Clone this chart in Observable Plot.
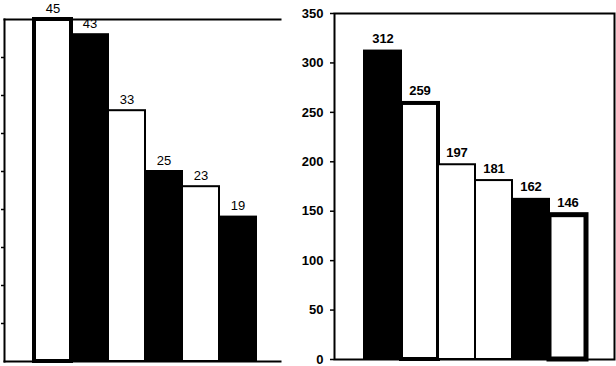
<!DOCTYPE html>
<html>
<head>
<meta charset="utf-8">
<script src="https://cdn.jsdelivr.net/npm/d3@7"></script>
<script src="https://cdn.jsdelivr.net/npm/@observablehq/plot@0.6"></script>
<style>
  html, body { margin: 0; padding: 0; background: #fff; }
  #wrap { display: flex; width: 616px; height: 366px; background: #fff; }
</style>
</head>
<body>
<div id="wrap"></div>
<script>
// ---- data ----
const leftCategories = ["L1", "L2", "L3", "L4", "L5", "L6"];
const leftValues = [45, 43, 33, 25, 23, 19];
const rightCategories = ["R1", "R2", "R3", "R4", "R5", "R6"];
const rightValues = [312, 259, 197, 181, 162, 146];
const rightTicks = [0, 50, 100, 150, 200, 250, 300, 350];

// ---- styles ----
const leftFills = ["white", "black", "white", "black", "white", "black"];
const leftStrokeW = [4, 2, 2, 2, 2, 2];
const rightFills = ["black", "white", "white", "white", "black", "white"];
const rightStrokeW = [2, 4, 2, 2, 2, 5];
const font = "'Liberation Sans', Arial, sans-serif";

const leftData = leftCategories.map((c, i) => ({c, v: leftValues[i], fill: leftFills[i], sw: leftStrokeW[i]}));
const rightData = rightCategories.map((c, i) => ({c, v: rightValues[i], fill: rightFills[i], sw: rightStrokeW[i]}));

const left = Plot.plot({
  width: 290, height: 366,
  marginLeft: 4, marginRight: 10, marginTop: 19, marginBottom: 5,
  style: {fontFamily: font, fontSize: "12px", overflow: "visible", background: "white"},
  x: {type: "band", domain: leftCategories, range: [31, 258], padding: 0, axis: null},
  y: {domain: [0, 45], axis: null},
  color: {type: "identity"},
  marks: [
    Plot.barY(leftData, {x: "c", y: "v", fill: "fill", stroke: "black", strokeWidth: "sw"}),
    Plot.axisY({ticks: d3.range(5, 45, 5), tickSize: 3, tickFormat: () => "", label: null, strokeWidth: 1.5}),
    Plot.frame({anchor: "left", stroke: "black", strokeWidth: 2}),
    Plot.frame({anchor: "top", stroke: "black", strokeWidth: 2}),
    Plot.frame({anchor: "bottom", stroke: "black", strokeWidth: 2}),
    Plot.text(leftData, {x: "c", y: "v", text: d => String(d.v), lineAnchor: "bottom", dy: -7, fontSize: 13, fill: "black"})
  ]
});

const right = Plot.plot({
  width: 326, height: 366,
  marginLeft: 44, marginRight: 2, marginTop: 13, marginBottom: 7,
  style: {fontFamily: font, fontSize: "13px", overflow: "visible", background: "white"},
  x: {type: "band", domain: rightCategories, range: [73, 296], padding: 0, axis: null},
  y: {domain: [0, 350], axis: null},
  color: {type: "identity"},
  marks: [
    Plot.barY(rightData, {x: "c", y: "v", fill: "fill", stroke: "black", strokeWidth: "sw"}),
    Plot.axisY({ticks: rightTicks, tickSize: 4, tickPadding: 7, label: null, fontWeight: "bold", fontSize: 13, fill: "black", strokeWidth: 1.5}),
    Plot.frame({stroke: "black", strokeWidth: 2}),
    Plot.text(rightData, {x: "c", y: "v", text: d => String(d.v), lineAnchor: "bottom", dy: -8, fontSize: 13, fontWeight: "bold", fill: "black"})
  ]
});

document.getElementById("wrap").append(left, right);
</script>
</body>
</html>
